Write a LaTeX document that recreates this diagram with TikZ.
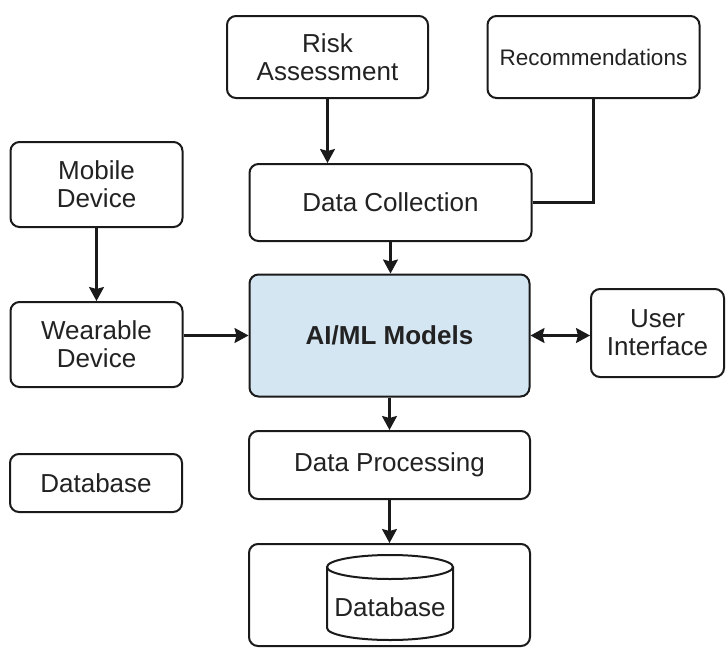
\documentclass[tikz,border=0pt]{standalone}
\usepackage{fontspec}
\setmainfont{Liberation Sans}
\usetikzlibrary{arrows.meta}
\definecolor{edge}{HTML}{1A1A1A}
\definecolor{ink}{HTML}{222222}
\definecolor{modelblue}{HTML}{D5E6F3}
\begin{document}
\begin{tikzpicture}[x=1pt,y=-1pt,
  box/.style={draw=edge, line width=2pt, rounded corners=9pt, fill=white,
    text=ink, align=center, inner sep=0pt, font=\fontsize{26}{28}\selectfont},
  wire/.style={draw=edge, line width=2.2pt},
  tip/.tip={Stealth[length=14pt,width=15pt,inset=2pt]},
  link/.style={wire, -tip},
  twoway/.style={wire, tip-tip},
]
\useasboundingbox[fill=white] (0,0) rectangle (726,648);

% upper row
\node[box, minimum width=201pt, minimum height=82pt] (risk) at (327.5,57) {Risk\\Assessment};
\node[box, minimum width=212pt, minimum height=82pt, font=\fontsize{22.5}{26}\selectfont] (rec) at (593.5,57) {Recommendations};
\node[box, minimum width=282pt, minimum height=77pt] (dc) at (390.5,202.5) {Data Collection};

% devices on the left
\node[box, minimum width=172pt, minimum height=85pt] (mobile) at (96.5,184.5) {Mobile\\Device};
\node[box, minimum width=172pt, minimum height=85pt] (wear) at (96.5,344.5) {Wearable\\Device};
\node[box, minimum width=172pt, minimum height=58pt] (dbl) at (96,483) {Database};

% central model and interface
\node[box, fill=modelblue, minimum width=280pt, minimum height=122pt, font=\fontsize{26}{28}\selectfont\bfseries] (ai) at (389.5,335.5) {AI/ML Models};
\node[box, minimum width=133pt, minimum height=88pt] (ui) at (657.5,333) {User\\Interface};

% processing and storage
\node[box, minimum width=281pt, minimum height=68pt] (dp) at (389.5,465) {Data Processing};
\node[box, minimum width=281pt, minimum height=102pt] (store) at (389.5,595) {};

% database cylinder inside the storage box
\draw[wire, line width=2pt, fill=white] (327,567) -- (327,628) arc[start angle=180, end angle=0, x radius=63, y radius=12] -- (453,567);
\draw[wire, line width=2pt, fill=white] (390,567) ellipse[x radius=63, y radius=12];
\node[text=ink, font=\fontsize{26}{28}\selectfont, inner sep=0pt] (dbtext) at (390,607) {Database};

% connectors
\draw[link] (risk.south) -- (risk.south |- dc.north);
\draw[wire] (rec.south) |- (dc.east);
\draw[link] (dc.south) -- (dc.south |- ai.north);
\draw[link] (mobile) -- (wear);
\draw[link] (wear.east |- ai.west) -- (ai.west);
\draw[twoway] (ai.east) -- (ai.east -| ui.west);
\draw[link] (ai.south) -- (ai.south |- dp.north);
\draw[link] (dp.south) -- (dp.south |- store.north);
\end{tikzpicture}
\end{document}
